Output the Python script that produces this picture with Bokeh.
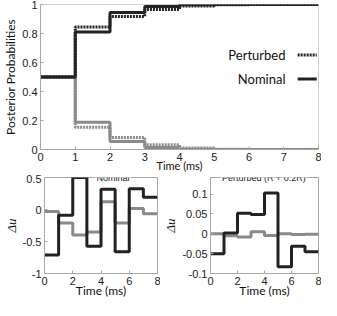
from bokeh.plotting import figure
from bokeh.layouts import row
from bokeh.models import FixedTicker, Range1d, Label
from bokeh.core.properties import value
from bokeh.embed import file_html
from bokeh.resources import INLINE

# ---------------- data ----------------
t_edges = [0, 1, 2, 3, 4, 5, 6, 7, 8]
top_xticks = [0, 1, 2, 3, 4, 5, 6, 7, 8]
top_yticks = [0, 0.2, 0.4, 0.6, 0.8, 1.0]

# posterior probabilities per interval (0-1, 1-2, ..., 7-8)
post_nom_a = [0.5, 0.81, 0.944, 0.986, 0.998, 1.0, 1.0, 1.0]
post_per_a = [0.5, 0.845, 0.918, 0.966, 0.99, 0.998, 1.0, 1.0]
post_nom_b = [0.5, 0.188, 0.056, 0.014, 0.002, 0.0, 0.0, 0.0]
post_per_b = [0.5, 0.153, 0.082, 0.032, 0.01, 0.002, 0.0, 0.0]

# control deviations, nominal case
nom_du_1 = [-0.71, -0.09, 0.5, -0.575, 0.315, -0.66, 0.325, 0.19]
nom_du_2 = [-0.03, -0.21, -0.40, -0.35, 0.12, -0.21, 0.017, -0.065]
nom_yticks = [-1, -0.5, 0, 0.5]

# control deviations, perturbed case
per_du_1 = [-0.05, 0.002, 0.052, 0.049, 0.103, -0.083, -0.031, -0.045]
per_du_2 = [0.0, -0.005, -0.008, 0.005, -0.004, 0.0, -0.002, -0.001]
per_yticks = [-0.1, -0.05, 0, 0.05, 0.1]
bot_xticks = [0, 2, 4, 6, 8]

leg_labels = ["Perturbed", "Nominal"]

BLACK = "#222222"
GRAY = "#8a8a8a"
AXIS = "#a8a8a8"
TICKFONT = "Liberation Sans"


def step_xy(vals):
    xs, ys = [], []
    for i, v in enumerate(vals):
        xs += [t_edges[i], t_edges[i + 1]]
        ys += [v, v]
    return xs, ys


def style_axes(p, tick_size, label_size):
    for ax in (p.xaxis[0], p.yaxis[0]):
        ax.axis_line_color = AXIS
        ax.major_tick_line_color = AXIS
        ax.minor_tick_line_color = None
        ax.major_tick_in = 3
        ax.major_tick_out = 0
        ax.major_label_text_font = TICKFONT
        ax.major_label_text_font_size = tick_size
        ax.major_label_text_color = "#222222"
        ax.axis_label_text_font_style = "normal"
        ax.axis_label_text_color = "#111111"
        ax.axis_label_text_font_size = label_size
    p.xgrid.grid_line_color = None
    p.ygrid.grid_line_color = None


# ---------------- top figure ----------------
top = figure(width=321, height=174, output_backend="svg", toolbar_location=None,
             x_range=Range1d(0, 8), y_range=Range1d(0, 1),
             min_border_left=24, min_border_right=3, min_border_top=4, min_border_bottom=20)
top.outline_line_color = "#d0d0d0"
style_axes(top, "11px", "12px")
top.xaxis.ticker = FixedTicker(ticks=top_xticks)
top.yaxis.ticker = FixedTicker(ticks=top_yticks)
top.yaxis.major_label_overrides = {0: "0", 1: "1", 0.2: "0.2", 0.4: "0.4", 0.6: "0.6", 0.8: "0.8", 1.0: "1"}
top.xaxis.axis_label = "Time (ms)"
top.yaxis.axis_label = "Posterior Probabilities"
top.xaxis.axis_label_text_font = "Lato"
top.yaxis.axis_label_text_font = "Lato"
top.xaxis.axis_label_text_font_size = "11px"
top.xaxis.axis_label_standoff = -5
top.xaxis.major_label_standoff = 3
top.yaxis.major_label_standoff = 3
top.yaxis.axis_label_standoff = 1

xs, ys = step_xy(post_nom_b)
top.line(xs, ys, line_color=GRAY, line_width=3)
xs, ys = step_xy(post_per_b)
top.line(xs, ys, line_color=GRAY, line_width=3, line_dash="2 1")
xs, ys = step_xy(post_nom_a)
top.line(xs, ys, line_color=BLACK, line_width=3)
xs, ys = step_xy(post_per_a)
top.line(xs, ys, line_color=BLACK, line_width=3, line_dash="2 1")

# legend (label left of sample line)
leg_dash = ["2 1", "solid"]
leg_y = [0.652, 0.486]
top.text(x=[7.05, 7.05], y=leg_y, text=leg_labels, text_align="right", text_baseline="middle",
         text_font=value("Lato"), text_font_size="13px", text_color="#111111")
for dash, yy in zip(leg_dash, leg_y):
    top.line([7.4, 7.95], [yy, yy], line_color=BLACK, line_width=3, line_dash=dash)


def bottom_fig(width, yr, yticks, overrides, min_left, title, title_x):
    p = figure(width=width, height=126, output_backend="svg", toolbar_location=None,
               x_range=Range1d(0, 8), y_range=Range1d(*yr),
               min_border_left=min_left, min_border_right=3, min_border_top=3,
               min_border_bottom=20)
    style_axes(p, "11px", "12px")
    p.outline_line_color = AXIS
    p.xaxis.ticker = FixedTicker(ticks=bot_xticks)
    p.yaxis.ticker = FixedTicker(ticks=yticks)
    p.yaxis.major_label_overrides = overrides
    p.xaxis.axis_label = "Time (ms)"
    p.xaxis.axis_label_text_font = "Lato"
    p.xaxis.axis_label_standoff = -5
    p.xaxis.major_label_standoff = 3
    p.yaxis.axis_label = "Δu"
    p.yaxis.axis_label_text_font = "Liberation Serif"
    p.yaxis.axis_label_text_font_style = "italic"
    p.yaxis.axis_label_text_font_size = "13px"
    p.yaxis.axis_label_standoff = 1
    p.yaxis.major_label_standoff = 3
    p.add_layout(Label(x=title_x, y=yr[1], text=title, text_align="center",
                       text_baseline="middle", text_font="Liberation Sans",
                       text_font_size="9px", text_color="#222222",
                       background_fill_color="white", padding=2, level="overlay"))
    return p


# ---------------- bottom-left ----------------
bl = bottom_fig(160, (-1, 0.5), nom_yticks, {-1: "-1", -0.5: "-0.5", 0: "0", 0.5: "0.5"},
                26, "Nominal", 4.85)
xs, ys = step_xy(nom_du_2)
bl.line(xs, ys, line_color=GRAY, line_width=3)
xs, ys = step_xy(nom_du_1)
bl.line(xs, ys, line_color=BLACK, line_width=3)

# ---------------- bottom-right ----------------
br = bottom_fig(161, (-0.1, 0.142), per_yticks,
                {-0.1: "-0.1", -0.05: "-0.05", 0: "0", 0.05: "0.05", 0.1: "0.1"},
                38, "Perturbed (R + 0.2R)", 3.95)
xs, ys = step_xy(per_du_2)
br.line(xs, ys, line_color=GRAY, line_width=3)
xs, ys = step_xy(per_du_1)
br.line(xs, ys, line_color=BLACK, line_width=3)

open("out.html", "w").write(file_html([top, row(bl, br, spacing=0)], INLINE))
